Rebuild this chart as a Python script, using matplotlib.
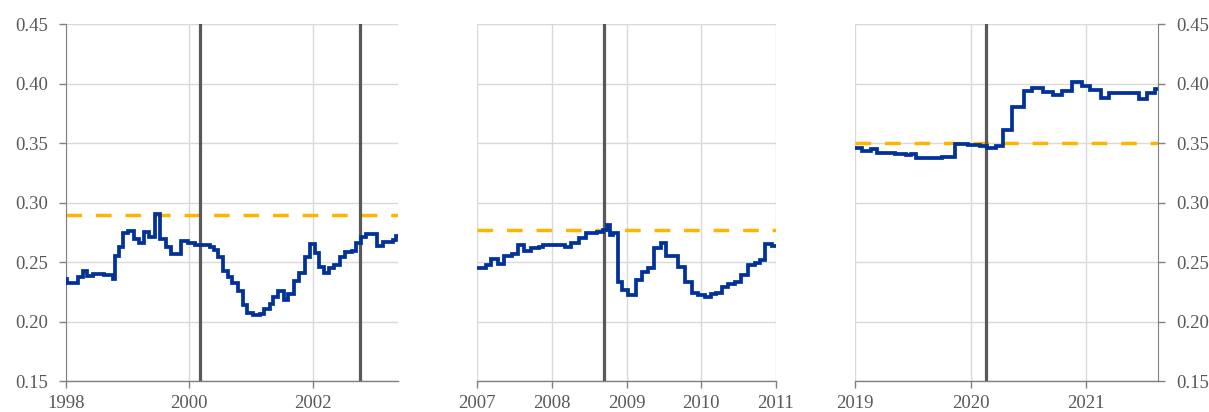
import numpy as np
import matplotlib
matplotlib.use("Agg")
import matplotlib.pyplot as plt

# ---------------- data ----------------
left_x = [1998.00, 1998.02, 1998.20, 1998.28, 1998.34, 1998.45, 1998.62, 1998.70, 1998.77, 1998.80,
          1998.86, 1998.93, 1999.01, 1999.10, 1999.19, 1999.27, 1999.35, 1999.45, 1999.52, 1999.63,
          1999.70, 1999.87, 1999.98, 2000.10, 2000.25, 2000.33, 2000.40, 2000.47, 2000.54, 2000.62,
          2000.70, 2000.79, 2000.87, 2000.94, 2001.03, 2001.14, 2001.21, 2001.30, 2001.36, 2001.44,
          2001.53, 2001.60, 2001.70, 2001.78, 2001.87, 2001.95, 2002.04, 2002.10, 2002.19, 2002.27,
          2002.35, 2002.44, 2002.53, 2002.64, 2002.70, 2002.78, 2002.87, 2003.04, 2003.13, 2003.24,
          2003.30, 2003.34]
left_y = [0.236, 0.233, 0.238, 0.243, 0.2385, 0.240, 0.2395, 0.239, 0.236, 0.2555,
          0.263, 0.2745, 0.2765, 0.2695, 0.266, 0.2752, 0.2715, 0.2905, 0.2695, 0.263,
          0.257, 0.268, 0.2665, 0.2645, 0.2648, 0.2625, 0.2605, 0.2547, 0.243, 0.2374,
          0.2329, 0.2262, 0.2142, 0.2071, 0.2055, 0.2065, 0.2105, 0.215, 0.2211, 0.2259,
          0.2183, 0.2234, 0.2345, 0.2413, 0.2542, 0.265, 0.2576, 0.2463, 0.2407, 0.245,
          0.2477, 0.2547, 0.2584, 0.2597, 0.266, 0.2715, 0.2735, 0.2637, 0.2673, 0.2668,
          0.2685, 0.272]

mid_x = [2007.00, 2007.12, 2007.19, 2007.28, 2007.36, 2007.46, 2007.55, 2007.62, 2007.72, 2007.83,
         2007.88, 2008.10, 2008.18, 2008.25, 2008.36, 2008.46, 2008.60, 2008.68, 2008.74, 2008.78,
         2008.82, 2008.89, 2008.94, 2009.02, 2009.13, 2009.20, 2009.28, 2009.36, 2009.46, 2009.53,
         2009.69, 2009.78, 2009.87, 2009.96, 2010.05, 2010.13, 2010.20, 2010.28, 2010.36, 2010.45,
         2010.53, 2010.62, 2010.72, 2010.78, 2010.85, 2010.95]
mid_y = [0.245, 0.2477, 0.2524, 0.2483, 0.2553, 0.2567, 0.2645, 0.2597, 0.2618, 0.263,
         0.2645, 0.2645, 0.263, 0.2665, 0.2702, 0.2744, 0.2757, 0.2772, 0.2813, 0.273,
         0.2744, 0.2337, 0.2267, 0.2225, 0.2351, 0.2421, 0.2455, 0.2618, 0.266, 0.2555,
         0.2458, 0.2337, 0.2245, 0.2225, 0.2211, 0.2234, 0.2245, 0.229, 0.2315, 0.2337,
         0.2393, 0.2477, 0.2497, 0.252, 0.2655, 0.264]

right_x = [2019.00, 2019.06, 2019.14, 2019.19, 2019.34, 2019.44, 2019.48, 2019.53, 2019.75, 2019.86,
           2019.98, 2020.08, 2020.14, 2020.22, 2020.28, 2020.36, 2020.46, 2020.53, 2020.63, 2020.71,
           2020.79, 2020.88, 2020.96, 2021.03, 2021.13, 2021.20, 2021.29, 2021.46, 2021.53, 2021.60]
right_y = [0.3458, 0.3438, 0.3448, 0.3421, 0.341, 0.3403, 0.341, 0.338, 0.3388, 0.3494,
           0.3488, 0.348, 0.3458, 0.3477, 0.3612, 0.3803, 0.3942, 0.3962, 0.3934, 0.3906,
           0.3942, 0.4012, 0.3981, 0.3948, 0.3883, 0.392, 0.3925, 0.387, 0.392, 0.3954]

thresholds = [0.290, 0.277, 0.350]
events = [[2000.17, 2002.77], [2008.70], [2020.13]]
xlims = [(1998.0, 2003.38), (2007.0, 2011.0), (2019.0, 2021.62)]
xticks = [[1998, 2000, 2002], [2007, 2008, 2009, 2010, 2011], [2019, 2020, 2021]]
yticks = [0.15, 0.20, 0.25, 0.30, 0.35, 0.40, 0.45]

# ---------------- style ----------------
BLUE = "#003299"
YELLOW = "#FFB400"
EVENT = "#595959"
GRID = "#D9D9D9"
SPINE = "#808080"
TXT = "#595959"

plt.rcParams["font.family"] = ["Liberation Serif", "DejaVu Serif"]
plt.rcParams["font.size"] = 13.5

fig = plt.figure(figsize=(12.09, 4.12), dpi=100)
rects = [
    (65.7 / 1209, 30.7 / 412, 332.3 / 1209, 357 / 412),
    (477.3 / 1209, 30.7 / 412, 298.7 / 1209, 357 / 412),
    (855.3 / 1209, 30.7 / 412, 302.4 / 1209, 357 / 412),
]
series = [(left_x, left_y), (mid_x, mid_y), (right_x, right_y)]

for i, rect in enumerate(rects):
    ax = fig.add_axes(rect)
    xs, ys = series[i]
    x0, x1 = xlims[i]
    px = np.append(np.array(xs), x1)
    py = np.append(np.array(ys), ys[-1])
    ax.set_xlim(x0, x1)
    ax.set_ylim(0.15, 0.45)
    ax.set_xticks(xticks[i])
    ax.set_xticklabels([str(t) for t in xticks[i]])
    ax.set_yticks(yticks)
    ax.grid(True, color=GRID, lw=1.0)
    ax.set_axisbelow(True)

    ax.axhline(thresholds[i], color=YELLOW, lw=2.5, dashes=(4.5, 4.0), zorder=2)
    for e in events[i]:
        ax.axvline(e, color=EVENT, lw=2.3, zorder=3)
    ax.plot(px, py, drawstyle="steps-post", color=BLUE, lw=2.7, zorder=4,
            solid_joinstyle="miter")

    for s in ax.spines.values():
        s.set_visible(False)
    ax.spines["bottom"].set_visible(True)
    ax.spines["bottom"].set_color(SPINE)
    ax.spines["bottom"].set_linewidth(1.0)
    ax.tick_params(axis="x", colors=SPINE, length=5, width=1.0, pad=5, labelcolor=TXT,
                   labelsize=13.5)
    if i == 0:
        ax.spines["left"].set_visible(True)
        ax.spines["left"].set_color(SPINE)
        ax.tick_params(axis="y", colors=SPINE, length=5, width=1.0, pad=8, labelcolor=TXT,
                       labelsize=13.5, left=True, labelleft=True)
        ax.yaxis.set_major_formatter(matplotlib.ticker.FormatStrFormatter("%.2f"))
    elif i == 1:
        ax.tick_params(axis="y", left=False, labelleft=False)
    else:
        ax.spines["right"].set_visible(True)
        ax.spines["right"].set_color(SPINE)
        ax.yaxis.tick_right()
        ax.tick_params(axis="y", colors=SPINE, length=5, width=1.0, pad=8, labelcolor=TXT,
                       labelsize=13.5, right=True, labelright=True, left=False, labelleft=False)
        ax.yaxis.set_major_formatter(matplotlib.ticker.FormatStrFormatter("%.2f"))

fig.savefig("out.png", dpi=100)
